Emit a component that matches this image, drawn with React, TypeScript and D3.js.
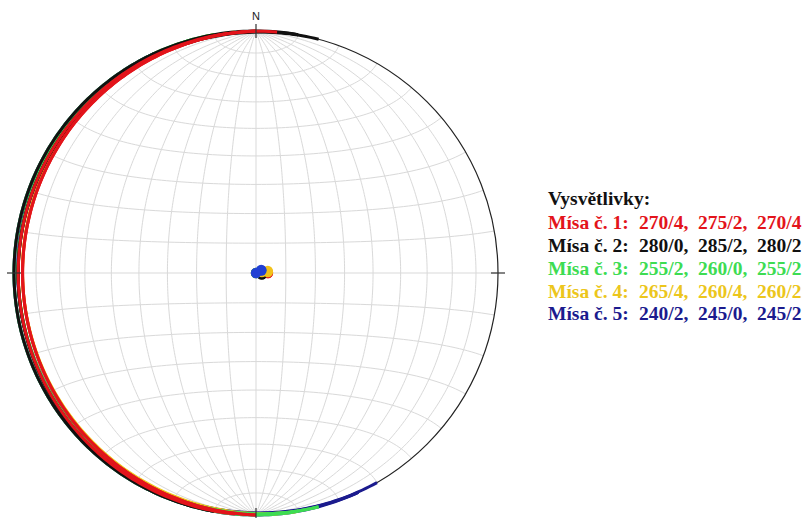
import React from "react";
import * as d3 from "d3";

// Planes per site: dip direction / dip (degrees)
const sites = ["Mísa č. 1:", "Mísa č. 2:", "Mísa č. 3:", "Mísa č. 4:", "Mísa č. 5:"];
const dipDirections = [
  [270, 275, 270],
  [280, 285, 280],
  [255, 260, 255],
  [265, 260, 260],
  [240, 245, 245],
];
const dips = [
  [4, 2, 4],
  [0, 2, 2],
  [2, 0, 2],
  [4, 4, 2],
  [2, 0, 2],
];
const siteColors = ["#e3141b", "#111111", "#3ddc52", "#ecc61c", "#1b1b8e"];
const poleColors = ["#e3141b", "#111111", "#3ddc52", "#f2c21a", "#2140d4"];
const legendTitle = "Vysvětlivky:";

const W = 808;
const H = 518;
const cx = 256;
const cy = 273;
const R = 242;
const toRad = Math.PI / 180;

// Equal-area (Schmidt) projection, lower hemisphere, of a unit vector (north, east, down)
const rScale = d3.scaleLinear().domain([0, 1]).range([0, R]);
function project(n: number, e: number, dn: number): [number, number] {
  const plunge = Math.asin(Math.max(-1, Math.min(1, dn)));
  const trend = Math.atan2(e, n);
  const r = rScale(Math.SQRT2 * Math.sin((Math.PI / 2 - plunge) / 2));
  return [cx + r * Math.sin(trend), cy - r * Math.cos(trend)];
}

// Great circle of a plane given dip direction and dip
function greatCircle(dd: number, dip: number): [number, number][] {
  const s = (dd - 90) * toRad;
  const d = dd * toRad;
  const dp = dip * toRad;
  const sh = [Math.cos(s), Math.sin(s), 0];
  const dh = [Math.cos(d) * Math.cos(dp), Math.sin(d) * Math.cos(dp), Math.sin(dp)];
  return d3.range(0, 180.01, 1).map((t) => {
    const a = t * toRad;
    const v = [0, 1, 2].map((i) => Math.cos(a) * sh[i] + Math.sin(a) * dh[i]);
    return project(v[0], v[1], Math.max(0, v[2]));
  });
}

// Small circle about the horizontal N-S axis at cone angle alpha
function smallCircle(alpha: number): [number, number][] {
  const al = alpha * toRad;
  return d3.range(0, 180.01, 2).map((f) => {
    const p = f * toRad;
    return project(Math.cos(al), Math.sin(al) * Math.cos(p), Math.sin(al) * Math.sin(p));
  });
}

function pole(dd: number, dip: number): [number, number] {
  const trend = (dd + 180) * toRad;
  const plunge = (90 - dip) * toRad;
  return project(
    Math.cos(plunge) * Math.cos(trend),
    Math.cos(plunge) * Math.sin(trend),
    Math.sin(plunge)
  );
}

const line = d3.line<[number, number]>().curve(d3.curveLinear);

export default function App() {
  const gridSteps = d3.range(10, 90, 10);
  const meridians: [number, number][][] = [];
  gridSteps.forEach((g) => {
    meridians.push(greatCircle(90, g));
    meridians.push(greatCircle(270, g));
  });
  const parallels = d3.range(10, 180, 10).filter((a) => a !== 90).map(smallCircle);

  const order = [4, 3, 2, 1, 0];
  const legendX = 548;
  const valueX = [639, 698, 757];
  const rowY = [205, 229, 252, 275, 298, 320];

  return (
    <svg width={W} height={H} style={{ position: "absolute", left: 0, top: 0, background: "#fff" }}>
      <g>
        {meridians.map((pts, i) => (
          <path key={"m" + i} d={line(pts) || ""} fill="none" stroke="#d9d9d9" strokeWidth={1} />
        ))}
        {parallels.map((pts, i) => (
          <path key={"p" + i} d={line(pts) || ""} fill="none" stroke="#d9d9d9" strokeWidth={1} />
        ))}
        <line x1={cx} y1={cy - R} x2={cx} y2={cy + R} stroke="#d9d9d9" strokeWidth={1} />
        <line x1={cx - R} y1={cy} x2={cx + R} y2={cy} stroke="#d9d9d9" strokeWidth={1} />
      </g>
      <circle cx={cx} cy={cy} r={R} fill="none" stroke="#222" strokeWidth={1.2} />
      <g>
        {order.map((si) =>
          dipDirections[si].map((dd, j) => (
            <path
              key={"gc" + si + "-" + j}
              d={line(greatCircle(dd, dips[si][j])) || ""}
              fill="none"
              stroke={siteColors[si]}
              strokeWidth={3}
            />
          ))
        )}
      </g>
      <g>
        {dipDirections.map((dds, si) =>
          dds.map((dd, j) => {
            const [x, y] = pole(dd, dips[si][j]);
            return <circle key={"pl" + si + "-" + j} cx={x} cy={y} r={5.2} fill={poleColors[si]} />;
          })
        )}
      </g>
      <g stroke="#333" strokeWidth={1.2}>
        <line x1={cx} y1={cy - R - 7} x2={cx} y2={cy - R + 7} />
        <line x1={cx} y1={cy + R - 7} x2={cx} y2={cy + R + 7} />
        <line x1={cx - R - 7} y1={cy} x2={cx - R + 7} y2={cy} />
        <line x1={cx + R - 7} y1={cy} x2={cx + R + 7} y2={cy} />
      </g>
      <text x={cx} y={cy - R - 11} textAnchor="middle" fontFamily="Liberation Sans, Arial, sans-serif" fontSize={11} fill="#222">
        N
      </text>
      <g fontFamily="Liberation Serif, Times New Roman, serif" fontWeight="bold" fontSize={19.5}>
        <text x={legendX} y={rowY[0]} fill="#111">{legendTitle}</text>
        {sites.map((s, si) => (
          <g key={"lg" + si} fill={siteColors[si]}>
            <text x={legendX} y={rowY[si + 1]}>{s}</text>
            {dipDirections[si].map((dd, j) => (
              <text key={j} x={valueX[j]} y={rowY[si + 1]}>
                {`${dd}/${dips[si][j]}${j < 2 ? "," : ""}`}
              </text>
            ))}
          </g>
        ))}
      </g>
    </svg>
  );
}
